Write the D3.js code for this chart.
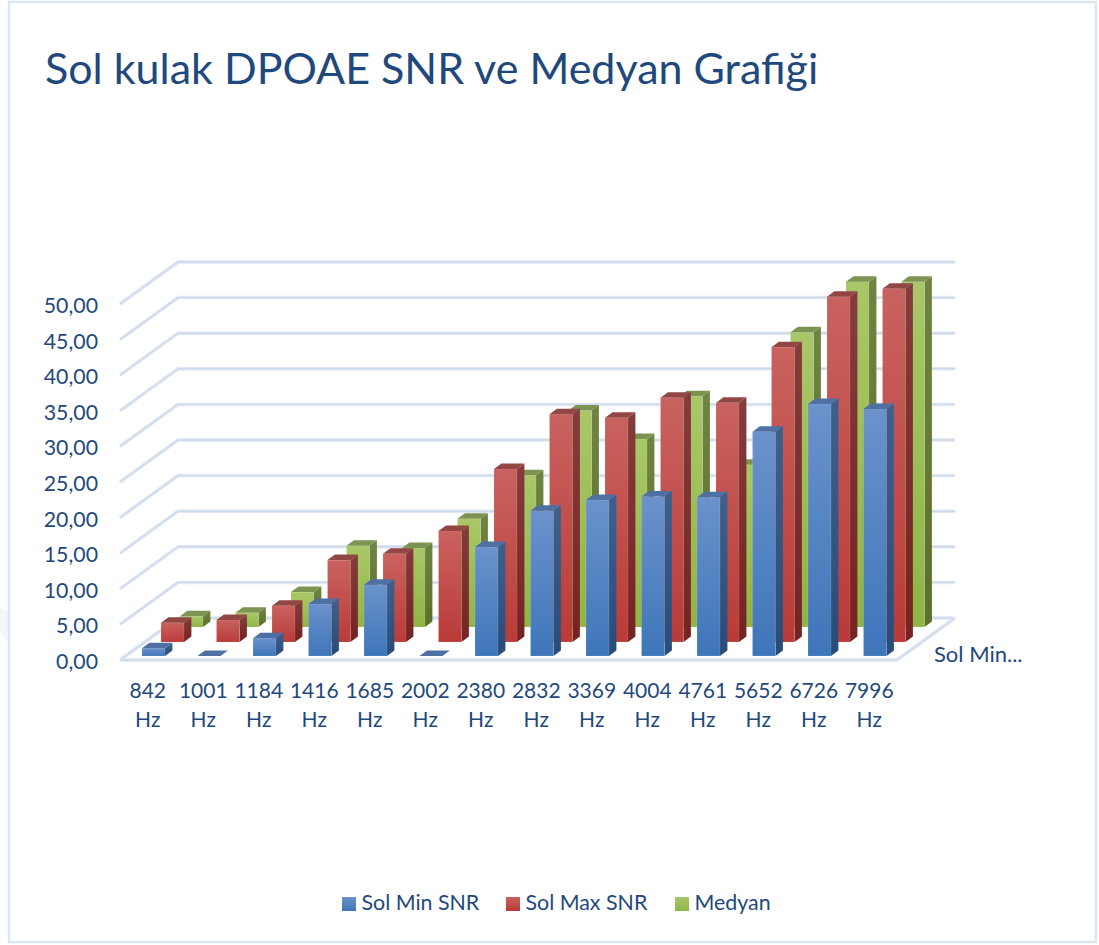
<!DOCTYPE html>
<html><head><meta charset="utf-8">
<script src="https://cdn.jsdelivr.net/npm/d3@7"></script>
<style>html,body{margin:0;padding:0;background:#fff}svg{display:block}text{font-family:Lato,"Open Sans",sans-serif;fill:#1f497d}</style>
</head><body><svg id="c" width="1099" height="945"></svg>
<script>
const titleText = "Sol kulak DPOAE SNR ve Medyan Grafiği";
const categories = ["842","1001","1184","1416","1685","2002","2380","2832","3369","4004","4761","5652","6726","7996"];
const unitLabel = "Hz";
const solMin = [1.1,0,2.5,7.3,10,0,15.3,20.4,21.9,22.4,22.3,31.5,35.4,34.7];
const solMax = [2.7,3.1,5.1,11.5,12.4,15.6,24.3,32,31.5,34.3,33.6,41.4,48.5,49.6];
const medyan = [1.5,2,4.9,11.4,11.1,15.2,21.3,30.4,26.4,32.4,22.8,41.4,48.5,48.5];
const seriesNames = ["Sol Min SNR","Sol Max SNR","Medyan"];
const yTicks = [0,5,10,15,20,25,30,35,40,45,50];
const depthLabel = "Sol Min...";

const svg = d3.select("#c");
const x = d3.scaleBand().domain(categories).range([120,897]).paddingInner(0.5856).paddingOuter(0.2928);
const y = d3.scaleLinear().domain([0,50]).range([660,304]);
const floorDx = 58, floorDy = -42;
const series = [
 {name:seriesNames[0],values:solMin,ox:5.75,oy:-4,top:"#4f70a2",c:["#6b92cb","#3e76ba"],s:["#40608c","#294b78"]},
 {name:seriesNames[1],values:solMax,ox:24.75,oy:-18,top:"#934745",c:["#c9625f","#ba3b38"],s:["#843c3c","#742321"]},
 {name:seriesNames[2],values:medyan,ox:43.75,oy:-33,top:"#7d9352",c:["#a9c768","#8fb545"],s:["#6f8442","#5a7029"]}
];
const defs = svg.append("defs");
series.forEach((s,i)=>{
  [["c",s.c],["s",s.s]].forEach(([k,cols])=>{
    const g=defs.append("linearGradient").attr("id",k+i).attr("x1",0).attr("y1",0).attr("x2",0).attr("y2",1);
    g.append("stop").attr("offset",0).attr("stop-color",cols[0]);
    g.append("stop").attr("offset",1).attr("stop-color",cols[1]);
  });
});
// faint backdrop shape left of the frame
svg.append("path").attr("d","M0,608L8,612L8,642L0,632Z").attr("fill","#f6f6f6");
// outer border
svg.append("rect").attr("x",9).attr("y",2).attr("width",1087).attr("height",940)
  .attr("fill","#fff").attr("stroke","#d9e6f7").attr("stroke-width",2.5);
// title
svg.append("text").attr("x",45).attr("y",84).attr("font-size",43).text(titleText);
// gridlines
const grid=svg.append("g").attr("fill","none").attr("stroke-linejoin","round");
const gridPaths=[];
yTicks.forEach(t=>{
  const yy=y(t);
  gridPaths.push(`M120,${yy}L${120+floorDx},${yy+floorDy}L${897+floorDx},${yy+floorDy}`);
});
gridPaths.push(`M120,${y(0)}L897,${y(0)}L${897+floorDx},${y(0)+floorDy}`);
gridPaths.forEach(d=>{
  grid.append("path").attr("d",d).attr("stroke","#dfe7f3").attr("stroke-width",3.5);
  grid.append("path").attr("d",d).attr("stroke","#cfdaea").attr("stroke-width",1.4);
});
// bars, back to front
const dx=7.4, dy=-5.5;
[2,1,0].forEach(i=>{
  const s=series[i], w=x.bandwidth();
  const g=svg.append("g");
  categories.forEach((cat,j)=>{
    const x0=x(cat)+s.ox, yb=y(0)+s.oy, yt=y(s.values[j])+s.oy;
    if(yb-yt>0){
      g.append("path").attr("d",`M${x0+w},${yb}L${x0+w+dx},${yb+dy}L${x0+w+dx},${yt+dy}L${x0+w},${yt}Z`).attr("fill",`url(#s${i})`);
      g.append("rect").attr("x",x0).attr("y",yt).attr("width",w).attr("height",yb-yt).attr("fill",`url(#c${i})`)
        .attr("stroke","#fff").attr("stroke-opacity",0.12).attr("stroke-width",1);
    }
    g.append("path").attr("d",`M${x0},${yt}L${x0+dx},${yt+dy}L${x0+w+dx},${yt+dy}L${x0+w},${yt}Z`).attr("fill",s.top);
  });
});
// y labels
svg.append("g").selectAll("text").data(yTicks).join("text")
  .attr("x",98).attr("y",d=>y(d)+9).attr("text-anchor","end").attr("font-size",21.3)
  .text(d=>d3.format(".2f")(d).replace(".",","));
// x labels
const xl=svg.append("g").attr("text-anchor","middle").attr("font-size",21);
categories.forEach(cat=>{
  const cx=x(cat)+x.bandwidth()/2;
  xl.append("text").attr("x",cx).attr("y",698).text(cat);
  xl.append("text").attr("x",cx).attr("y",727).text(unitLabel);
});
svg.append("text").attr("x",934).attr("y",662).attr("font-size",22).text(depthLabel);
// legend
const legendX=[342,506,675];
series.forEach((s,i)=>{
  svg.append("rect").attr("x",legendX[i]).attr("y",897).attr("width",14).attr("height",14).attr("fill",`url(#c${i})`);
  svg.append("text").attr("x",legendX[i]+19.5).attr("y",910).attr("font-size",21.4).text(s.name);
});
</script></body></html>
